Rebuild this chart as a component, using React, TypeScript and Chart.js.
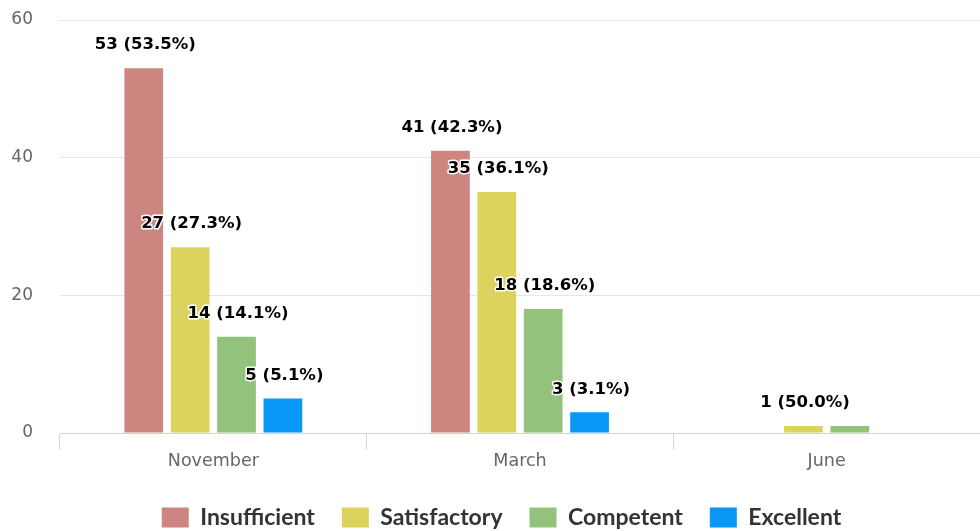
import React, { useEffect, useRef } from "react";
import { Chart, registerables } from "chart.js";

Chart.register(...registerables);

const categories = ["November", "March", "June"];
const seriesNames = ["Insufficient", "Satisfactory", "Competent", "Excellent"];
const insufficient: (number | null)[] = [53, 41, null];
const satisfactory: (number | null)[] = [27, 35, 1];
const competent: (number | null)[] = [14, 18, 1];
const excellent: (number | null)[] = [5, 3, null];
const seriesColors = ["#cd8580", "#dcd35f", "#93c27d", "#0a97f5"];
const yTicks = [0, 20, 40, 60];

const allSeries = [insufficient, satisfactory, competent, excellent];

const labelPlugin = {
  id: "barLabels",
  afterDatasetsDraw(chart: any) {
    const ctx = chart.ctx;
    const totals = categories.map((_, i) =>
      allSeries.reduce((s, arr) => s + (arr[i] ?? 0), 0)
    );
    const placed: { l: number; t: number; r: number; b: number }[] = [];
    ctx.save();
    ctx.font = "bold 16.5px 'DejaVu Sans'";
    ctx.textAlign = "center";
    ctx.textBaseline = "middle";
    ctx.lineJoin = "round";
    chart.data.datasets.forEach((ds: any, di: number) => {
      const meta = chart.getDatasetMeta(di);
      meta.data.forEach((bar: any, i: number) => {
        const v = ds.data[i];
        if (v === null || v === undefined) return;
        const pct = ((v / totals[i]) * 100).toFixed(1);
        const text = `${v} (${pct}%)`;
        const w = ctx.measureText(text).width;
        const x = bar.x + 1.5;
        const y = bar.y - 23;
        const rect = { l: x - w / 2, r: x + w / 2, t: y - 9, b: y + 9 };
        if (placed.some((p) => rect.l < p.r && rect.r > p.l && rect.t < p.b && rect.b > p.t)) return;
        placed.push(rect);
        ctx.strokeStyle = "#ffffff";
        ctx.lineWidth = 3;
        ctx.strokeText(text, x, y);
        ctx.fillStyle = "#000000";
        ctx.fillText(text, x, y);
      });
    });
    ctx.restore();
  },
};

const shiftLegendPlugin = {
  id: "shiftLegend",
  afterLayout(chart: any) {
    if (chart.legend) {
      chart.legend.left += 8;
      chart.legend.right += 8;
    }
  },
};

export default function App() {
  const ref = useRef<HTMLCanvasElement | null>(null);
  useEffect(() => {
    document.body.style.margin = "0";
    if (!ref.current) return;
    const chart = new Chart(ref.current, {
      type: "bar",
      data: {
        labels: categories,
        datasets: allSeries.map((d, i) => ({
          label: seriesNames[i],
          data: d,
          backgroundColor: seriesColors[i],
          borderWidth: 0,
          barPercentage: 0.835,
          categoryPercentage: 0.605,
        })),
      },
      options: {
        responsive: false,
        animation: false,
        layout: { padding: { top: 20, right: -7, bottom: -8, left: 0 } },
        plugins: {
          tooltip: { enabled: false },
          legend: {
            position: "bottom",
            labels: {
              boxWidth: 27,
              boxHeight: 20,
              padding: 27,
              color: "#333333",
              font: { family: "Lato", weight: "bold", size: 23 },
            },
          },
        },
        scales: {
          x: {
            grid: {
              offset: true,
              drawOnChartArea: false,
              color: "#ccd6eb",
              tickLength: 17,
            },
            border: { display: true, color: "#ccd6eb" },
            ticks: {
              color: "#666666",
              font: { family: "DejaVu Sans", size: 17.5 },
              padding: 1,
            },
            afterFit: (s: any) => {
              s.height = 46;
            },
          },
          y: {
            min: 0,
            max: 60,
            afterBuildTicks: (s: any) => {
              s.ticks = yTicks.map((v) => ({ value: v }));
            },
            grid: {
              color: (c: any) => (c.tick && c.tick.value === 0 ? "#ccd6eb" : "#e6e6e6"),
              drawTicks: true,
              tickLength: 27,
              tickColor: "rgba(0,0,0,0)",
            },
            border: { display: false },
            ticks: {
              color: "#666666",
              font: { family: "DejaVu Sans", size: 17 },
              padding: 0,
            },
            afterFit: (s: any) => {
              s.width = 60;
            },
          },
        },
      },
      plugins: [labelPlugin, shiftLegendPlugin],
    });
    return () => chart.destroy();
  }, []);
  return (
    <div style={{ width: 980, height: 531 }}>
      <canvas ref={ref} width={980} height={531} style={{ width: 980, height: 531 }} />
    </div>
  );
}
